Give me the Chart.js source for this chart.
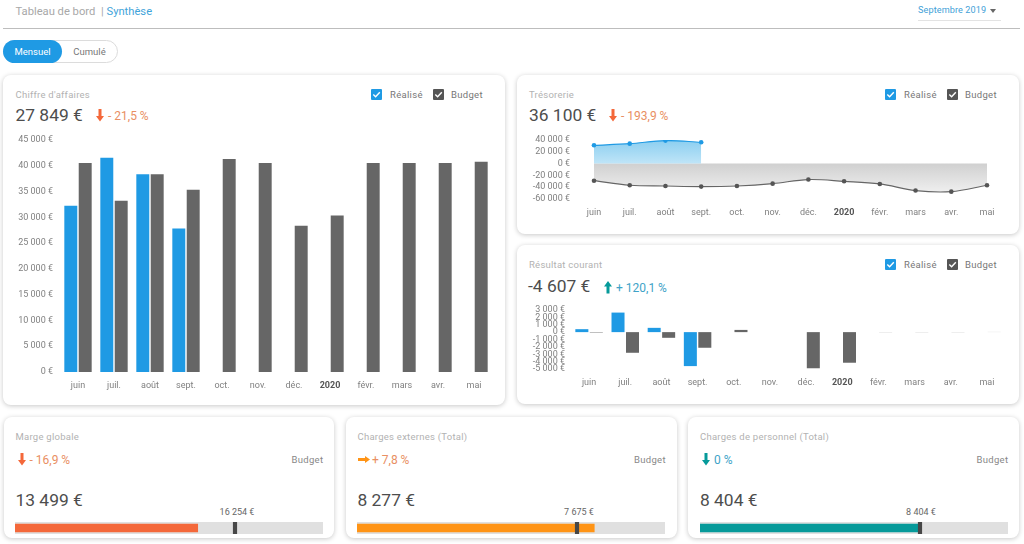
<!DOCTYPE html>
<html lang="fr"><head><meta charset="utf-8">
<script src="https://cdn.jsdelivr.net/npm/chart.js@4"></script>
<style>
html,body{margin:0;padding:0;background:#fff;width:1024px;height:544px;overflow:hidden;font-family:Roboto,sans-serif}
.abs,.card,canvas{position:absolute}
.abs{white-space:nowrap;line-height:1}
.card{background:#fff;border-radius:8px;box-shadow:0 1px 5px rgba(0,0,0,.22)}
.t{font-size:9.5px;letter-spacing:.25px;color:#b2b2b2}
.big{font-size:17.4px;color:#4d4d4d}
.pct{font-size:12px}
.leg{font-size:9.5px;letter-spacing:.3px;color:#777}
.box{position:absolute;width:11px;height:11px}
</style></head><body>
<div class="abs" style="left:15.5px;top:5.5px;font-size:11.2px;color:#a8a8a8">Tableau de bord</div>
<div class="abs" style="left:101px;top:5.5px;font-size:11.2px;color:#a8a8a8">|</div>
<div class="abs" style="left:106.5px;top:5.5px;font-size:11.2px;color:#3fa4da">Synthèse</div>
<div class="abs" style="left:918px;top:6px;font-size:9.1px;letter-spacing:.1px;color:#3f9fd8">Septembre 2019</div>
<svg class="abs" style="left:990px;top:9px" width="6" height="4"><path d="M0 0H6L3 4Z" fill="#666"/></svg>
<div class="abs" style="left:918px;top:20px;width:83px;height:1px;background:#e3e3e3"></div>
<div class="abs" style="left:3px;top:28px;width:1017px;height:1px;background:#bdbdbd"></div>
<div class="abs" style="left:3px;top:40px;width:113px;height:21px;border:1px solid #dcdcdc;border-radius:12px"></div>
<div class="abs" style="left:3px;top:40px;width:59px;height:23px;background:#1f9ae4;border-radius:12px;color:#fff;font-size:9.5px;line-height:23px;text-align:center">Mensuel</div>
<div class="abs" style="left:62px;top:40px;width:55px;height:23px;color:#777;font-size:9.5px;line-height:23px;text-align:center">Cumulé</div>

<div class="card" style="left:3px;top:75px;width:502px;height:330px"></div>
<div class="card" style="left:517px;top:75px;width:502px;height:159px"></div>
<div class="card" style="left:517px;top:245px;width:502px;height:159px"></div>
<div class="card" style="left:4px;top:417px;width:330px;height:121px"></div>
<div class="card" style="left:346px;top:417px;width:331px;height:121px"></div>
<div class="card" style="left:688px;top:417px;width:331px;height:121px"></div>

<div id="texts"></div>
<canvas id="caChart" style="left:5px;top:130px" width="495" height="270"></canvas>
<canvas id="tresoChart" style="left:522px;top:130px" width="492" height="95"></canvas>
<canvas id="resChart" style="left:522px;top:300px" width="492" height="98"></canvas>
<canvas id="b0" style="left:15px;top:522px" width="308" height="12"></canvas>
<canvas id="b1" style="left:357px;top:522px" width="308" height="12"></canvas>
<canvas id="b2" style="left:699.5px;top:522px" width="308" height="12"></canvas>

<script>
const months = ['juin','juil.','août','sept.','oct.','nov.','déc.','2020','févr.','mars','avr.','mai'];
const caRealise = [32260,41560,38340,27849,null,null,null,null,null,null,null,null];
const caBudget = [40530,33220,38340,35360,41300,40530,28370,30370,40530,40530,40530,40780];
const tresoRealise = [31000,33800,39000,36100,null,null,null,null,null,null,null,null];
const tresoBudget = [-29000,-36700,-38000,-39000,-38000,-34000,-27000,-30000,-34500,-45700,-47500,-36700];
const resRealise = [400,2650,580,-4607,null,null,null,null,null,null,null,null];
const resBudget = [-100,-2800,-770,-2120,300,0,-4900,-4150,-60,-60,-60,40];
const bulletNames = ['Marge globale','Charges externes (Total)','Charges de personnel (Total)'];
const bulletActual = [13499,8277,8404];
const bulletBudget = [16254,7675,8404];
const bulletLabels = ['16 254 €','7 675 €','8 404 €'];
const bulletTotals = ['13 499 €','8 277 €','8 404 €'];
const bulletPct = ['- 16,9 %','+ 7,8 %','0 %'];

const BLUE='#1f9ae4', GREY='#666666', RED='#f4683a', ORANGE='#ff9416', TEAL='#069a9a';
const euro = v => String(v).replace(/\B(?=(\d{3})+$)/g,' ') + ' €';
const tickFont = c => ({family:'Roboto',size:9,weight:c.index===7?'bold':'normal'});
const tickColor = c => c.index===7?'#555':'#808080';

const texts = document.getElementById('texts');
function add(html){texts.insertAdjacentHTML('beforeend',html)}
function txt(x,y,cls,s,col){add(`<div class="abs ${cls}" style="left:${x}px;top:${y}px${col?';color:'+col:''}">${s}</div>`)}
function arrow(x,y,dir,col){
  const p={d:'M2.5 0H5.5V7H8L4 12.5L0 7H2.5Z',u:'M2.5 12.5H5.5V5.5H8L4 0L0 5.5H2.5Z'}[dir];
  if(dir==='r'){add(`<svg class="abs" style="left:${x}px;top:${y+3}px" width="12" height="7" viewBox="0 0 12 7"><path d="M0 2H7V0L12 3.5L7 7V5H0Z" fill="${col}"/></svg>`);return}
  add(`<svg class="abs" style="left:${x}px;top:${y}px" width="8" height="13" viewBox="0 0 8 13"><path d="${p}" fill="${col}"/></svg>`);
}
function check(x,y,col){add(`<svg class="box" style="left:${x}px;top:${y}px" viewBox="0 0 11 11"><rect width="11" height="11" rx="1" fill="${col}"/><path d="M2.3 5.6L4.6 7.8L8.8 3.3" fill="none" stroke="#fff" stroke-width="1.4"/></svg>`)}
function legend(x,y){check(x,y,BLUE);txt(x+19,y+1.5,'leg','Réalisé');check(x+62,y,'#555');txt(x+80,y+1.5,'leg','Budget')}

txt(15.5,89.5,'t',"Chiffre d'affaires");legend(371,88.5);txt(15.5,107,'big','27 849 €');arrow(96,109,'d',RED);txt(108,110,'pct','- 21,5 %','#e98f63');
txt(529,89.5,'t','Trésorerie');legend(885,88.5);txt(529,106.5,'big','36 100 €');arrow(609,109,'d',RED);txt(621,110,'pct','- 193,9 %','#e98f63');
txt(529,259.5,'t','Résultat courant');legend(885,258.5);txt(528,278,'big','-4 607 €');arrow(604,281,'u',TEAL);txt(616,281.5,'pct','+ 120,1 %','#3ea3c8');

const bx=[15.5,357.5,700], bc=[RED,ORANGE,TEAL], bdir=['d','r','d'], btc=['#e98f63','#e98f63','#3ea3c8'], bdgx=[291.5,634,976.5], bmx=[237,579,921];
bulletNames.forEach((n,i)=>{
  txt(bx[i],431.5,'t',n);
  arrow(bx[i]+(i==1?0:2),453,bdir[i],bc[i]);
  txt(bx[i]+(i==1?14.5:14),453.5,'pct',bulletPct[i],btc[i]);
  txt(bdgx[i],455,'leg','Budget','#888');
  txt(bx[i],491.5,'big',bulletTotals[i]);
  add(`<div class="abs" style="left:${bmx[i]-40}px;width:80px;text-align:center;top:508px;font-size:9px;color:#666">${bulletLabels[i]}</div>`);
});

const base={responsive:false,animation:false,devicePixelRatio:1,events:[],plugins:{legend:{display:false},tooltip:{enabled:false}}};
function xAxis(offset,h){return {offset,grid:{display:false,drawTicks:false},border:{display:false},
  afterFit:s=>{s.height=h},ticks:{autoSkip:false,maxRotation:0,padding:8,font:tickFont,color:tickColor}}}
function yAxis(min,max,step,w,pad,size){return {min,max,grid:{display:false,drawTicks:false},border:{display:false},
  afterFit:s=>{s.width=w;s.paddingTop=0;s.paddingBottom=0},ticks:{stepSize:step,autoSkip:false,padding:pad,callback:euro,font:{family:'Roboto',size:size},color:'#808080'}}}

new Chart('caChart',{type:'bar',data:{labels:months,datasets:[
  {label:'Réalisé',data:caRealise,backgroundColor:BLUE},
  {label:'Budget',data:caBudget,backgroundColor:GREY}]},
  options:{...base,layout:{padding:{top:10,right:8,left:0,bottom:0}},
  scales:{x:xAxis(true,28),y:yAxis(0,45000,5000,55,7,9)}}});

function grad(c,a,b){const ch=c.chart;if(!ch.chartArea)return a;const s=ch.scales.y;
  const top=s.getPixelForValue(c.datasetIndex===0?40000:0),bot=s.getPixelForValue(c.datasetIndex===0?0:-50000);
  const g=ch.ctx.createLinearGradient(0,top,0,bot);g.addColorStop(0,a);g.addColorStop(1,b);return g}
new Chart('tresoChart',{type:'line',data:{labels:months,datasets:[
  {label:'Réalisé',data:tresoRealise,borderColor:BLUE,borderWidth:1.2,pointBackgroundColor:BLUE,pointBorderWidth:0,pointRadius:2.3,tension:.35,fill:'origin',spanGaps:false,
   backgroundColor:c=>grad(c,'rgba(100,190,235,.75)','rgba(170,220,245,.75)')},
  {label:'Budget',data:tresoBudget,borderColor:'#666',borderWidth:1.2,pointBackgroundColor:'#555',pointBorderWidth:0,pointRadius:2.3,tension:.35,fill:'origin',
   backgroundColor:c=>grad(c,'rgba(208,208,208,1)','rgba(240,240,240,1)')}]},
  options:{...base,layout:{padding:{top:10,right:27,left:0,bottom:0}},
  scales:{x:xAxis(false,26),y:yAxis(-60000,40000,20000,72,24,9)}}});

new Chart('resChart',{type:'bar',data:{labels:months,datasets:[
  {label:'Réalisé',data:resRealise,backgroundColor:BLUE},
  {label:'Budget',data:resBudget,backgroundColor:c=>Math.abs(c.raw)<=60?'#d8d8d8':(Math.abs(c.raw)<=100?'#aaaaaa':GREY)}]},
  options:{...base,layout:{padding:{top:10,right:9,left:0,bottom:0}},
  scales:{x:xAxis(true,29),y:yAxis(-5000,3000,1000,49,6,9)}}});

bulletActual.forEach((v,i)=>{
  const b=bulletBudget[i], max=b*1.4, w=b*0.008;
  new Chart('b'+i,{type:'bar',data:{labels:[bulletNames[i]],datasets:[
    {label:'Budget',data:[[b-w,b+w]],backgroundColor:'#474747',barThickness:12,grouped:false,order:1},
    {label:'Réalisé',data:[v],backgroundColor:bc[i],barThickness:8,grouped:false,order:2},
    {label:'Piste',data:[max],backgroundColor:'#e0e0e0',barThickness:12,grouped:false,order:3}]},
    options:{...base,indexAxis:'y',layout:{padding:0},scales:{
      x:{display:false,min:0,max:max,stacked:false},y:{display:false,stacked:false}}}});
});
</script>
</body></html>
